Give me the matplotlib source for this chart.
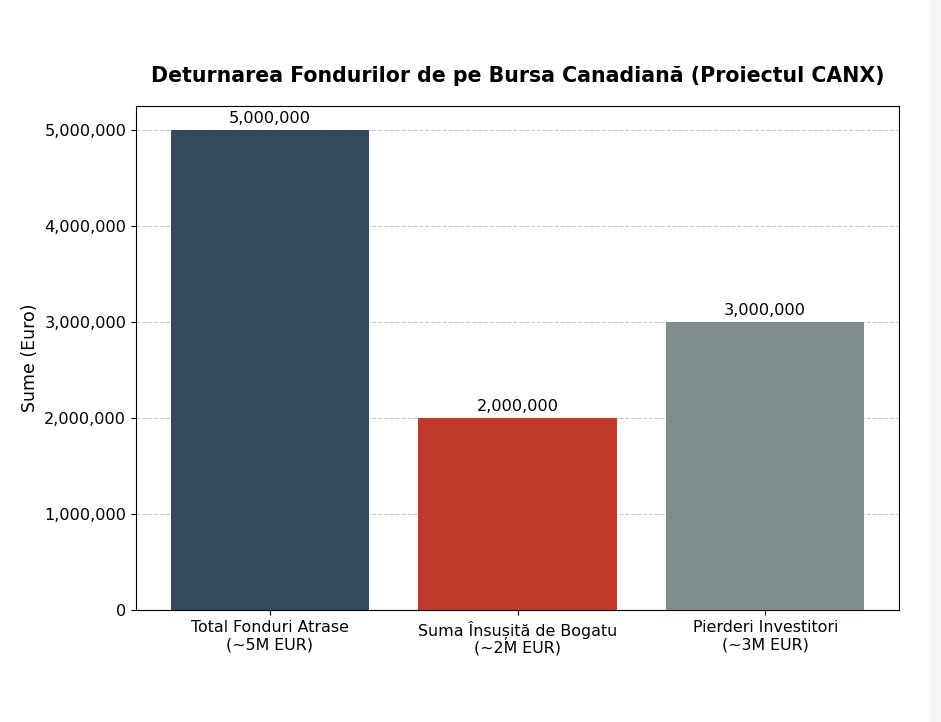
import matplotlib
matplotlib.use('Agg')
import matplotlib.pyplot as plt
from matplotlib.ticker import FuncFormatter
from matplotlib.patches import Rectangle

categories = ['Total Fonduri Atrase\n(~5M EUR)',
              'Suma Însușită de Bogatu\n(~2M EUR)',
              'Pierderi Investitori\n(~3M EUR)']
values = [5000000, 2000000, 3000000]
colors = ['#34495e', '#c0392b', '#7f8c8d']

fig = plt.figure(figsize=(9.41, 7.22), dpi=100)
# light strip on right edge of the reference picture
fig.patches.append(Rectangle((930 / 941, 0), 11 / 941, 1, transform=fig.transFigure,
                             color='#f6f6f6', zorder=-1))
ax = fig.add_axes([136 / 941, 1 - 610 / 722, (899 - 136) / 941, (610 - 106) / 722])

bars = ax.bar(range(len(values)), values, color=colors, width=0.8, zorder=3)
ax.set_xticks(range(len(values)))
ax.set_xticklabels(categories, fontsize=11.4)
ax.set_ylim(0, 5250000)
ax.yaxis.set_major_formatter(FuncFormatter(lambda v, p: f'{int(v):,}'))
ax.tick_params(axis='y', labelsize=11.6)
ax.set_ylabel('Sume (Euro)', fontsize=12.5)
ax.grid(axis='y', linestyle='--', alpha=0.7, zorder=0)
fig.suptitle('Deturnarea Fondurilor de pe Bursa Canadiană (Proiectul CANX)',
             fontsize=14.8, fontweight='bold', x=517.5 / 941, y=1 - 76 / 722,
             va='center')

for b, v in zip(bars, values):
    ax.annotate(f'{v:,}', (b.get_x() + b.get_width() / 2, v), xytext=(0, 3),
                textcoords='offset points', ha='center', va='bottom', fontsize=11.6)

fig.savefig('out.png', dpi=100)
